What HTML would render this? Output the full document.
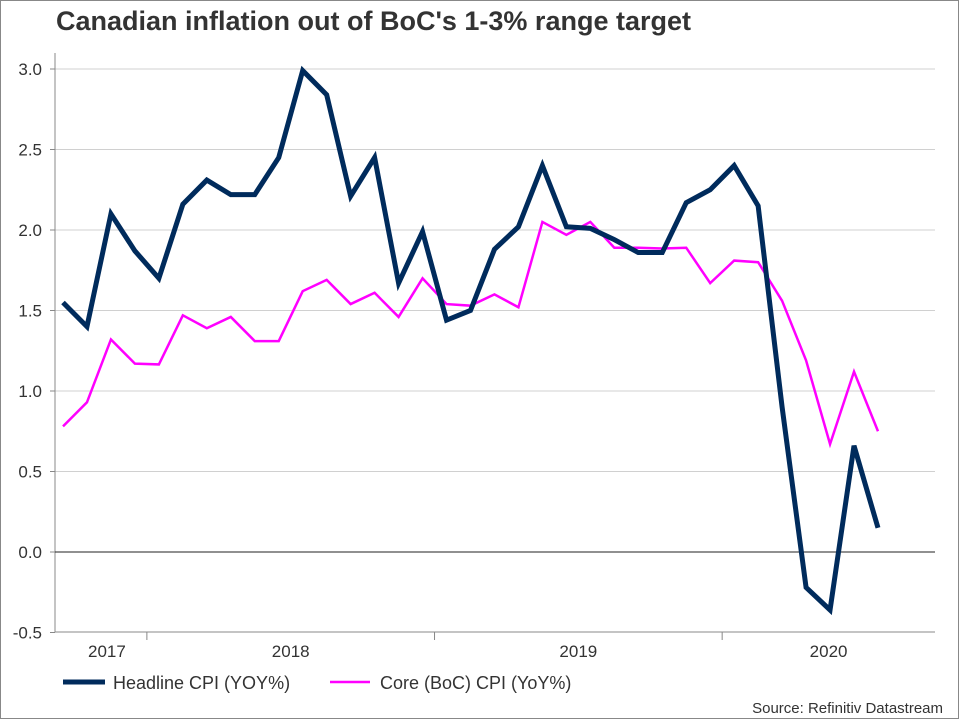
<!DOCTYPE html>
<html><head><meta charset="utf-8"><style>
html,body{margin:0;padding:0;background:#fff}
svg{display:block;font-family:"Liberation Sans",Arial,sans-serif}
</style></head><body>
<svg id="chart" width="960" height="720" viewBox="0 0 960 720">
<rect x="0.5" y="0.5" width="958" height="718" fill="#fff" stroke="#888"/>
<text x="56" y="30" font-size="27" font-weight="bold" fill="#333">Canadian inflation out of BoC's 1-3% range target</text>
<g id="grid"></g><g id="axes"></g><g id="series"></g>
<g>
<line x1="63" y1="682" x2="105" y2="682" stroke="#002b5c" stroke-width="5"/>
<text x="113" y="689" font-size="18" fill="#333">Headline CPI (YOY%)</text>
<line x1="330" y1="682" x2="370" y2="682" stroke="#ff00ff" stroke-width="2.5"/>
<text x="380" y="689" font-size="18" fill="#333">Core (BoC) CPI (YoY%)</text>
</g>
<text x="943" y="713" font-size="15" fill="#333" text-anchor="end">Source: Refinitiv Datastream</text>
</svg>
<script>
const headline=[1.55,1.40,2.10,1.87,1.70,2.16,2.31,2.22,2.22,2.45,2.99,2.84,2.21,2.45,1.67,1.99,1.44,1.50,1.88,2.02,2.40,2.02,2.01,1.94,1.86,1.86,2.17,2.25,2.40,2.15,0.90,-0.22,-0.36,0.66,0.15];
const core=[0.78,0.93,1.32,1.17,1.165,1.47,1.39,1.46,1.31,1.31,1.62,1.69,1.54,1.61,1.46,1.70,1.54,1.53,1.60,1.52,2.05,1.97,2.05,1.89,1.89,1.885,1.89,1.67,1.81,1.80,1.56,1.19,0.67,1.12,0.75];
const yTicks=[3.0,2.5,2.0,1.5,1.0,0.5,0.0,-0.5];
const years=["2017","2018","2019","2020"];
const yearStartIdx=[0,4,16,28];
const yearEndIdx=[4,16,28,40];
const NS="http://www.w3.org/2000/svg";
const L=55,R=935,T=53,B=632;
const y=v=>552+(0-v)*161;
const x=i=>63+i*23.97;
const xb=i=>x(i)-12;
function mk(t,a,p){const e=document.createElementNS(NS,t);for(const k in a)e.setAttribute(k,a[k]);p.appendChild(e);return e;}
const grid=document.getElementById('grid'),axes=document.getElementById('axes'),ser=document.getElementById('series');
yTicks.forEach(v=>{
  if(v!==0&&v!==-0.5){const g=mk('line',{x1:L,x2:R,y1:y(v),y2:y(v),stroke:'#d0d0d0','stroke-width':1},grid);
  
  }
  const tk=mk('line',{x1:L-5,x2:L,y1:y(v),y2:y(v),stroke:'#888'},axes);
  
  
  const t=mk('text',{x:42,y:y(v)+6,'font-size':17,fill:'#333','text-anchor':'end'},axes);
  t.textContent=v.toFixed(1);
  
  
});
const ya=mk('line',{x1:L,x2:L,y1:T,y2:B,stroke:'#888'},axes);


const xa=mk('line',{x1:L,x2:R,y1:B,y2:B,stroke:'#888'},axes);


const z=mk('line',{x1:L,x2:R,y1:y(0),y2:y(0),stroke:'#222'},axes);


years.forEach((yr,k)=>{
  const s=Math.max(L,xb(yearStartIdx[k])),e=Math.min(R,xb(yearEndIdx[k]));
  if(k>0){const tk=mk('line',{x1:xb(yearStartIdx[k]),x2:xb(yearStartIdx[k]),y1:B,y2:B+8,stroke:'#888'},axes);
  
  }
  const cx=k===0?(s+e)/2+6:(s+e)/2;
  const t=mk('text',{x:cx,y:B+25,'font-size':17,fill:'#333','text-anchor':'middle'},axes);
  t.textContent=yr;
  
  
});
const pc=mk('polyline',{points:core.map((v,i)=>x(i)+','+y(v)).join(' '),fill:'none',stroke:'#ff00ff','stroke-width':2.5,'stroke-linejoin':'miter'},ser);


const ph=mk('polyline',{points:headline.map((v,i)=>x(i)+','+y(v)).join(' '),fill:'none',stroke:'#002b5c','stroke-width':5,'stroke-linejoin':'miter'},ser);


</script>
</body></html>
